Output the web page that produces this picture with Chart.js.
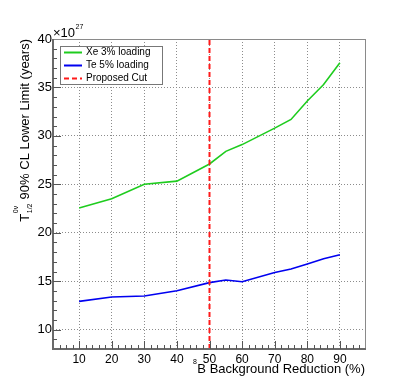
<!DOCTYPE html>
<html>
<head>
<meta charset="utf-8">
<script src="https://cdn.jsdelivr.net/npm/chart.js@4.4.1/dist/chart.umd.min.js"></script>
<style>
  html, body { margin: 0; padding: 0; background: #fff; }
  #wrap { width: 407px; height: 388px; position: relative; }
</style>
</head>
<body>
<div id="wrap"><canvas id="c"></canvas></div>
<script>
/* global Chart */
const reduction = [10, 20, 30, 40, 50, 55, 60, 70, 75, 80, 85, 90];
const xeLimit = [22.55, 23.5, 25.0, 25.33, 27.1, 28.4, 29.1, 30.8, 31.7, 33.6, 35.3, 37.55];
const teLimit = [12.92, 13.37, 13.47, 14.02, 14.85, 15.12, 14.95, 15.9, 16.26, 16.77, 17.32, 17.73];
const cutX = [50, 50];
const cutY = [8, 40];
const xMajorTicks = [10, 20, 30, 40, 50, 60, 70, 80, 90];
const yMajorTicks = [10, 15, 20, 25, 30, 35, 40];
const seriesNames = ["Xe 3% loading", "Te 5% loading", "Proposed Cut"];

const FONT = '"Liberation Sans", Arial, Helvetica, sans-serif';

function pts(xs, ys) {
  return xs.map(function (x, i) { return { x: x, y: ys[i] }; });
}

const decorations = {
  id: "decorations",
  afterDatasetsDraw(chart) {
    const ctx = chart.ctx;
    const a = chart.chartArea;
    const xs = chart.scales.x;
    const ys = chart.scales.y;
    ctx.save();

    // frame
    ctx.strokeStyle = "#8a8a8a";
    ctx.lineWidth = 1;
    ctx.strokeRect(a.left + 0.5, a.top + 0.5, a.right - a.left - 1, a.bottom - a.top - 1);

    // axis lines
    ctx.strokeStyle = "#6a6a6a";
    ctx.lineWidth = 2;
    ctx.beginPath();
    ctx.moveTo(a.left, a.top);
    ctx.lineTo(a.left, a.bottom);
    ctx.lineTo(a.right, a.bottom);
    ctx.stroke();

    // inward ticks
    ctx.strokeStyle = "#555";
    ctx.lineWidth = 1;
    ctx.beginPath();
    for (let v = 4; v <= 96; v += 2) {
      const px = Math.round(xs.getPixelForValue(v)) + 0.5;
      const len = v % 10 === 0 ? 8 : 4;
      ctx.moveTo(px, a.bottom);
      ctx.lineTo(px, a.bottom - len);
    }
    for (let v = 9; v <= 39; v += 1) {
      const py = Math.round(ys.getPixelForValue(v)) + 0.5;
      const len = v % 5 === 0 ? 8 : 4;
      ctx.moveTo(a.left, py);
      ctx.lineTo(a.left + len, py);
    }
    ctx.stroke();

    // legend
    const lx = 60, ly = 46, lw = 102, lh = 38;
    ctx.fillStyle = "#fff";
    ctx.fillRect(lx, ly, lw, lh);
    ctx.strokeStyle = "#777";
    ctx.lineWidth = 1;
    ctx.strokeRect(lx + 0.5, ly + 0.5, lw, lh);
    ctx.font = "10px " + FONT;
    ctx.textBaseline = "middle";
    ctx.textAlign = "left";
    chart.data.datasets.forEach(function (ds, i) {
      const y = ly + 6.5 + i * 13;
      ctx.strokeStyle = ds.borderColor;
      ctx.lineWidth = 2;
      ctx.setLineDash(ds.borderDash || []);
      ctx.beginPath();
      ctx.moveTo(lx + 4, y);
      ctx.lineTo(lx + 22, y);
      ctx.stroke();
      ctx.setLineDash([]);
      ctx.fillStyle = "#000";
      ctx.fillText(ds.label, lx + 26, y);
    });

    // exponent label
    ctx.fillStyle = "#000";
    ctx.textBaseline = "alphabetic";
    ctx.font = "13px " + FONT;
    ctx.fillText("\u00d710", a.left, 37);
    const w10 = ctx.measureText("\u00d710").width;
    ctx.font = "7px " + FONT;
    ctx.fillText("27", a.left + w10 + 0.5, 29);

    // x title
    ctx.textAlign = "right";
    ctx.font = "13px " + FONT;
    const xt = "B Background Reduction (%)";
    ctx.fillText(xt, a.right - 1, 373);
    const wxt = ctx.measureText(xt).width;
    ctx.font = "7px " + FONT;
    ctx.fillText("8", a.right - 1 - wxt - 0.5, 364);

    // y title (rotated)
    ctx.save();
    ctx.translate(29, a.top);
    ctx.rotate(-Math.PI / 2);
    ctx.textAlign = "left";
    ctx.font = "13px " + FONT;
    const main = " 90% CL Lower Limit (years)";
    const wMain = ctx.measureText(main).width;
    const wT = ctx.measureText("T").width;
    ctx.font = "7px " + FONT;
    const wSup = ctx.measureText("0\u03bd").width;
    const wSub = ctx.measureText("1/2").width;
    const wScript = Math.max(wSup, wSub) + 1;
    let x0 = -(wT + wScript + wMain);
    ctx.font = "13px " + FONT;
    ctx.fillText("T", x0, 0);
    ctx.font = "7px " + FONT;
    ctx.fillText("0\u03bd", x0 + wT + 0.5, -11);
    ctx.fillText("1/2", x0 + wT + 0.5, 3);
    ctx.font = "13px " + FONT;
    ctx.fillText(main, x0 + wT + wScript, 0);
    ctx.restore();

    ctx.restore();
  }
};

new Chart(document.getElementById("c"), {
  type: "line",
  data: {
    datasets: [
      {
        label: seriesNames[0],
        data: pts(reduction, xeLimit),
        borderColor: "#1ecc1e",
        borderWidth: 1.6,
        pointRadius: 0,
        tension: 0,
        order: 1
      },
      {
        label: seriesNames[1],
        data: pts(reduction, teLimit),
        borderColor: "#0000f0",
        borderWidth: 1.6,
        pointRadius: 0,
        tension: 0,
        order: 1
      },
      {
        label: seriesNames[2],
        data: pts(cutX, cutY),
        borderColor: "#ff1a1a",
        borderWidth: 2,
        borderDash: [5, 3],
        pointRadius: 0,
        tension: 0,
        order: 0
      }
    ]
  },
  options: {
    responsive: true,
    maintainAspectRatio: false,
    animation: false,
    events: [],
    layout: { padding: { left: 0, top: 39, right: 41, bottom: 0 } },
    plugins: {
      legend: { display: false },
      tooltip: { enabled: false }
    },
    scales: {
      x: {
        type: "linear",
        min: 2,
        max: 98,
        afterBuildTicks: function (scale) {
          scale.ticks = xMajorTicks.map(function (v) { return { value: v }; });
        },
        afterFit: function (scale) { scale.height = 39; },
        grid: { color: "#8c8c8c", lineWidth: 1, drawTicks: false },
        border: { display: false, dash: [1, 2] },
        ticks: {
          color: "#000",
          padding: 3,
          maxRotation: 0,
          autoSkip: false,
          font: { family: FONT, size: 12 }
        }
      },
      y: {
        type: "linear",
        min: 8,
        max: 40,
        afterBuildTicks: function (scale) {
          scale.ticks = yMajorTicks.map(function (v) { return { value: v }; });
        },
        afterFit: function (scale) { scale.width = 53; },
        grid: { color: "#8c8c8c", lineWidth: 1, drawTicks: false },
        border: { display: false, dash: [1, 2] },
        ticks: {
          color: "#000",
          padding: 1,
          autoSkip: false,
          font: { family: FONT, size: 13 }
        }
      }
    }
  },
  plugins: [decorations]
});
</script>
</body>
</html>
